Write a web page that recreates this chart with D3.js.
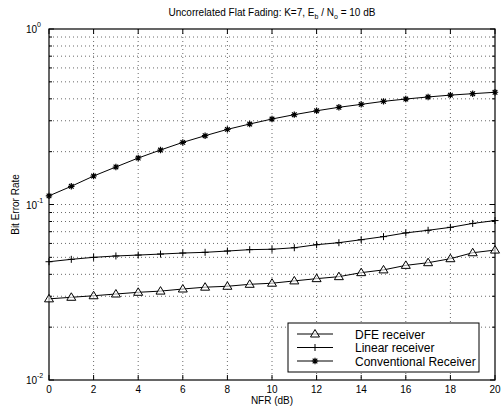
<!DOCTYPE html>
<html><head><meta charset="utf-8">
<script src="https://cdn.jsdelivr.net/npm/d3@7"></script>
<style>body{margin:0;background:#fff}svg{display:block}text{font-family:Arial,"Liberation Sans",Helvetica,sans-serif}</style>
</head><body><div id="chart"></div>
<script>
const nfr = [0,1,2,3,4,5,6,7,8,9,10,11,12,13,14,15,16,17,18,19,20];
const dfe = [0.029,0.0296,0.0302,0.0309,0.0316,0.0321,0.033,0.0338,0.0342,0.0351,0.0356,0.0367,0.0378,0.0388,0.0409,0.0424,0.045,0.0466,0.0491,0.0531,0.055];
const linear = [0.0472,0.0487,0.05,0.0509,0.0515,0.0522,0.0529,0.0534,0.0543,0.0553,0.0556,0.0567,0.059,0.0606,0.063,0.0656,0.0689,0.0713,0.0741,0.078,0.081];
const conventional = [0.112,0.127,0.1453,0.1636,0.184,0.2044,0.226,0.2466,0.268,0.2875,0.307,0.325,0.342,0.358,0.372,0.387,0.399,0.41,0.42,0.428,0.436];
const xTicks = [0,2,4,6,8,10,12,14,16,18,20];
const yMajor = [0.01,0.1,1];
const yExps = ["-2","-1","0"];
const seriesNames = ["DFE receiver","Linear receiver","Conventional Receiver"];

const W=503,H=406, L=49,R=495,T=29,B=380;
const svg=d3.select("#chart").append("svg").attr("width",W).attr("height",H);
const x=d3.scaleLinear().domain([0,20]).range([L,R]);
const y=d3.scaleLog().domain([0.01,1]).range([B,T]);

const yMinor=[];
[0.01,0.1].forEach(d=>{for(let k=2;k<=9;k++)yMinor.push(d*k);});

// grid
const g=svg.append("g");
xTicks.slice(1,-1).forEach(v=>g.append("line").attr("x1",x(v)).attr("x2",x(v)).attr("y1",T).attr("y2",B)
  .attr("stroke","#444").attr("stroke-width",0.8).attr("stroke-dasharray","1,3"));
yMinor.concat([0.1]).forEach(v=>g.append("line").attr("x1",L).attr("x2",R).attr("y1",y(v)).attr("y2",y(v))
  .attr("stroke","#444").attr("stroke-width",0.8).attr("stroke-dasharray","1,3"));

// ticks inside
const tk=svg.append("g").attr("stroke","#000").attr("stroke-width",1);
xTicks.forEach(v=>{
  tk.append("line").attr("x1",x(v)).attr("x2",x(v)).attr("y1",B).attr("y2",B-5);
  tk.append("line").attr("x1",x(v)).attr("x2",x(v)).attr("y1",T).attr("y2",T+5);
});
yMajor.forEach(v=>{
  tk.append("line").attr("x1",L).attr("x2",L+5).attr("y1",y(v)).attr("y2",y(v));
  tk.append("line").attr("x1",R).attr("x2",R-5).attr("y1",y(v)).attr("y2",y(v));
});
yMinor.forEach(v=>{
  tk.append("line").attr("x1",L).attr("x2",L+3).attr("y1",y(v)).attr("y2",y(v));
  tk.append("line").attr("x1",R).attr("x2",R-3).attr("y1",y(v)).attr("y2",y(v));
});

// frame
svg.append("rect").attr("x",L).attr("y",T).attr("width",R-L).attr("height",B-T)
  .attr("fill","none").attr("stroke","#000").attr("stroke-width",1.2);

// tick labels
xTicks.forEach(v=>svg.append("text").attr("x",x(v)).attr("y",B+13).attr("text-anchor","middle")
  .attr("font-size",10).text(v));
yMajor.forEach((v,i)=>{
  const t=svg.append("text").attr("x",L-12).attr("y",y(v)+4).attr("text-anchor","end").attr("font-size",10);
  t.append("tspan").text("10");
  svg.append("text").attr("x",L-12).attr("y",y(v)-2).attr("font-size",7).text(yExps[i]);
});

// axis labels & title
svg.append("text").attr("x",(L+R)/2).attr("y",B+24).attr("text-anchor","middle").attr("font-size",10).text("NFR (dB)");
svg.append("text").attr("transform",`translate(19,${(T+B)/2}) rotate(-90)`).attr("text-anchor","middle")
  .attr("font-size",10).text("Bit Error Rate");
const title=svg.append("text").attr("x",(L+R)/2).attr("y",16).attr("text-anchor","middle").attr("font-size",10);
title.append("tspan").text("Uncorrelated Flat Fading: K=7, E");
title.append("tspan").attr("font-size",7).attr("dy",3).text("b");
title.append("tspan").attr("dy",-3).text(" / N");
title.append("tspan").attr("font-size",7).attr("dy",3).text("o");
title.append("tspan").attr("dy",-3).text(" = 10 dB");

// markers
function marker(sel,type,cx,cy){
  if(type==="tri"){
    sel.append("path").attr("d",`M${cx},${cy-4.5}L${cx+4.5},${cy+3}L${cx-4.5},${cy+3}Z`)
      .attr("fill","#fff").attr("fill-opacity",0.6).attr("stroke","#000").attr("stroke-width",1);
  } else if(type==="plus"){
    sel.append("path").attr("d",`M${cx-3.5},${cy}H${cx+3.5}M${cx},${cy-3.5}V${cy+3.5}`)
      .attr("stroke","#000").attr("stroke-width",1);
  } else {
    const r=3.2,d=r*0.72;
    sel.append("path").attr("d",`M${cx-r},${cy}H${cx+r}M${cx},${cy-r}V${cy+r}M${cx-d},${cy-d}L${cx+d},${cy+d}M${cx-d},${cy+d}L${cx+d},${cy-d}`)
      .attr("stroke","#000").attr("stroke-width",1.2);
  }
}
const line=d3.line().x(d=>x(d[0])).y(d=>y(d[1]));
const series=[[dfe,"tri"],[linear,"plus"],[conventional,"star"]];
series.forEach(([vals,type])=>{
  const pts=nfr.map((n,i)=>[n,vals[i]]);
  svg.append("path").attr("d",line(pts)).attr("fill","none").attr("stroke","#000").attr("stroke-width",1);
  const mg=svg.append("g");
  pts.forEach(p=>marker(mg,type,x(p[0]),y(p[1])));
});

// legend
const lg=svg.append("g");
lg.append("rect").attr("x",288).attr("y",323).attr("width",191).attr("height",49)
  .attr("fill","#fff").attr("stroke","#000").attr("stroke-width",1);
series.forEach(([vals,type],i)=>{
  const yy=334+i*13.5;
  lg.append("line").attr("x1",297).attr("x2",333).attr("y1",yy).attr("y2",yy).attr("stroke","#000").attr("stroke-width",1);
  marker(lg,type,315,yy);
  lg.append("text").attr("x",355).attr("y",yy+4.5).attr("font-size",12).text(seriesNames[i]);
});
</script></body></html>
